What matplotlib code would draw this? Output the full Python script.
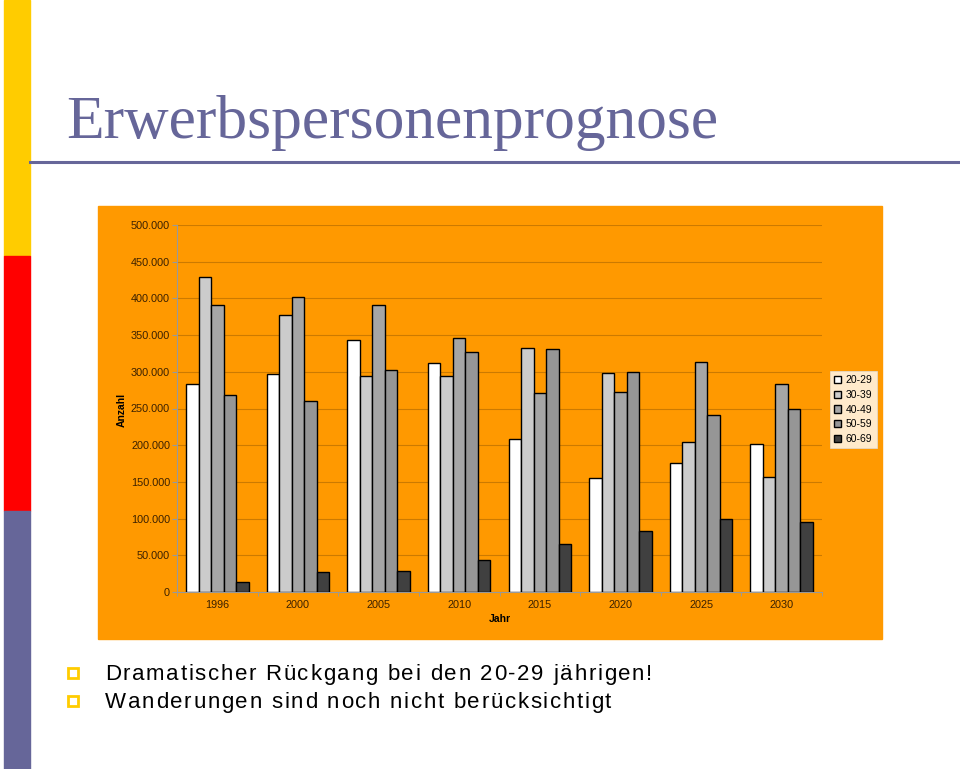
import matplotlib
matplotlib.use('Agg')
import matplotlib.pyplot as plt
from matplotlib.patches import Rectangle
from matplotlib.ticker import FuncFormatter, FixedLocator
from matplotlib import font_manager
import numpy as np

# data
years = ['1996', '2000', '2005', '2010', '2015', '2020', '2025', '2030']
groups = ['20-29', '30-39', '40-49', '50-59', '60-69']
v20 = [282700, 297000, 343000, 311800, 209000, 155500, 175500, 201400]
v30 = [428600, 376800, 294000, 293600, 332300, 298200, 204500, 157300]
v40 = [390500, 401800, 391400, 345500, 270500, 271800, 312700, 284000]
v50 = [268600, 260000, 301800, 327300, 331000, 300000, 241000, 249000]
v60 = [13600, 26800, 28600, 43200, 65000, 83600, 99000, 95500]
bar_colors = ['#FFFFFF', '#CCCCCC', '#A6A6A6', '#969696', '#404040']

title = 'Erwerbspersonenprognose'
bullets = ['Dramatischer Rückgang bei den 20-29 jährigen!',
           'Wanderungen sind noch nicht berücksichtigt']

W, H = 960, 769
DPI = 100
fig = plt.figure(figsize=(9.6, 7.69), dpi=DPI)
fig.patch.set_facecolor('white')

def fx(px):
    return px / W

def fy(py):
    return 1 - py / H

def spaced_text(x0, y0, s, family, size, track):
    # matplotlib has no letter spacing, so place the glyphs one by one
    font = font_manager.get_font(font_manager.findfont(family))
    font.set_size(size, DPI)
    xp = x0
    for c in s:
        fig.text(fx(xp), fy(y0), c, family=family, fontsize=size,
                 color='black', ha='left', va='baseline')
        g = font.load_char(ord(c))
        xp += g.linearHoriAdvance / 65536 + track

# coloured stripe on the left
fig.add_artist(Rectangle((fx(4), fy(256)), fx(26), 256 / H, color='#FFCC00',
                         transform=fig.transFigure, zorder=0))
fig.add_artist(Rectangle((fx(4), fy(511)), fx(26), 255 / H, color='#FF0000',
                         transform=fig.transFigure, zorder=0))
fig.add_artist(Rectangle((fx(4), 0), fx(26), (H - 511) / H, color='#666699',
                         transform=fig.transFigure, zorder=0))

# title + rule
fig.text(fx(66), fy(138), title, family='Liberation Serif', fontsize=44.3,
         color='#666699', ha='left', va='baseline')
fig.add_artist(plt.Line2D([fx(30), 1], [fy(162), fy(162)], color='#666699',
                          lw=2.2, transform=fig.transFigure))

# orange chart panel
fig.add_artist(Rectangle((fx(98), fy(639)), fx(784), 433 / H, color='#FF9900',
                         transform=fig.transFigure, zorder=0))

ax = fig.add_axes([fx(177), fy(592), fx(645), 367 / H])
ax.patch.set_alpha(0)

x = np.arange(len(years))
bw = 0.155
series = [v20, v30, v40, v50, v60]
for i, vals in enumerate(series):
    ax.bar(x + (i - 2) * bw, vals, bw, color=bar_colors[i], edgecolor='black',
           linewidth=1.0, label=groups[i], zorder=3)

ax.set_xlim(-0.5, len(years) - 0.5)
ax.set_ylim(0, 500000)
ax.set_yticks(np.arange(0, 500001, 50000))
ax.yaxis.set_major_formatter(FuncFormatter(
    lambda v, p: '0' if v == 0 else f'{int(v):,}'.replace(',', '.')))
ax.grid(axis='y', color='#CC7A00', lw=0.8, zorder=0)
ax.set_xticks(x)
ax.set_xticklabels(years)
ax.xaxis.set_minor_locator(FixedLocator(np.arange(-0.5, len(years), 1)))
ax.tick_params(axis='x', which='major', length=0, pad=6)
ax.tick_params(axis='x', which='minor', length=3, color='#999999')
ax.tick_params(axis='y', length=3.5, color='#999999', pad=1.5)
for lab in ax.get_xticklabels() + ax.get_yticklabels():
    lab.set_family('Liberation Sans')
    lab.set_fontsize(7.8)
    lab.set_color('#3a2000')
for s in ['top', 'right']:
    ax.spines[s].set_visible(False)
for s in ['left', 'bottom']:
    ax.spines[s].set_color('#999999')
    ax.spines[s].set_linewidth(0.8)

fig.text(fx(500), fy(619), 'Jahr', family='Liberation Sans', fontsize=7.5,
         fontweight='bold', ha='center', va='center', color='black')
fig.text(fx(122), fy(410), 'Anzahl', family='Liberation Sans', fontsize=7.5,
         fontweight='bold', ha='center', va='center', rotation=90,
         color='black')

leg = fig.legend(loc='upper left', bbox_to_anchor=(fx(830), fy(371)),
                 frameon=True, fancybox=False, prop={'family': 'Liberation Sans',
                                                     'size': 7.5},
                 handlelength=0.7, handleheight=0.7, handletextpad=0.4,
                 labelspacing=0.45, borderpad=0.4, borderaxespad=0)
leg.get_frame().set_facecolor('white')
leg.get_frame().set_edgecolor('#DDDDDD')
leg.get_frame().set_linewidth(0.6)

# bullet points
for k, txt in enumerate(bullets):
    yb = 680 + k * 28
    fig.add_artist(Rectangle((fx(68), fy(yb - 2)), fx(10), 10 / H,
                             facecolor='white', edgecolor='#FFCC00', lw=2,
                             transform=fig.transFigure))
    spaced_text(105, yb, txt, 'Liberation Sans', 16, 1.7)

fig.savefig('out.png', dpi=DPI)
